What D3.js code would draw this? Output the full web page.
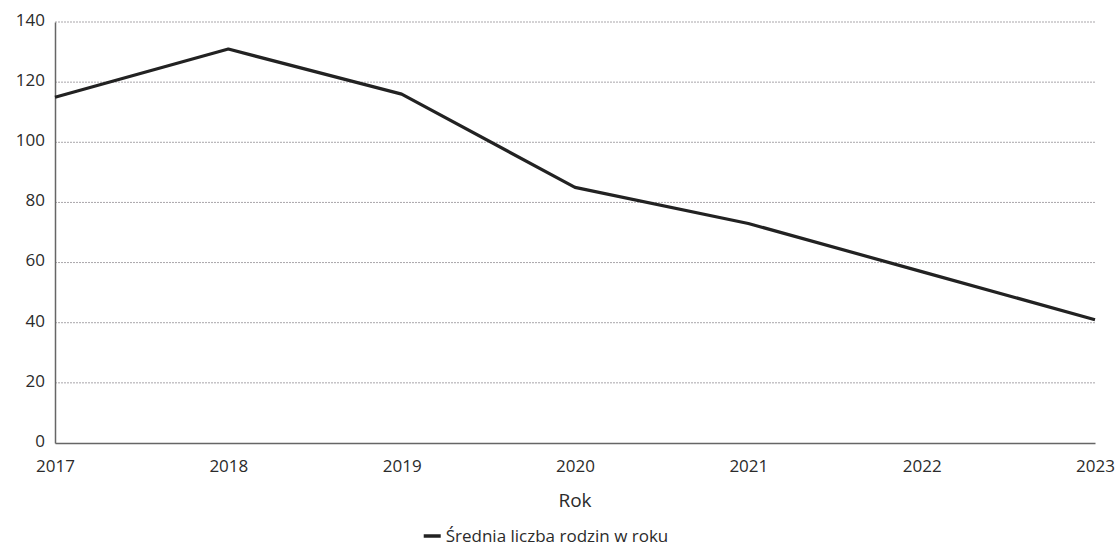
<!DOCTYPE html>
<html>
<head>
<meta charset="utf-8">
<script src="https://cdn.jsdelivr.net/npm/d3@7"></script>
<style>
  body { margin: 0; background: #fff; }
  text { font-family: "Open Sans", "Noto Sans", sans-serif; fill: #2b2b2b; }
</style>
</head>
<body>
<div id="chart"></div>
<script>
let years = [2017, 2018, 2019, 2020, 2021, 2022, 2023];
let values = [115, 131, 116, 85, 73, 57, 41];
let yTicks = [0, 20, 40, 60, 80, 100, 120, 140];
let seriesName = "Średnia liczba rodzin w roku";
let xTitle = "Rok";

let width = 1118, height = 549;
let margin = { left: 55, right: 23, top: 22, bottom: 106 };

let svg = d3.select('#chart')
    .append('svg')
    .attr('width', width)
    .attr('height', height);

let x = d3.scaleLinear()
    .domain([2017, 2023])
    .range([margin.left, width - margin.right]);

let y = d3.scaleLinear()
    .domain([0, 140])
    .range([height - margin.bottom, margin.top]);

// grid lines
svg.append('g')
    .selectAll('line')
    .data(yTicks.filter(d => d > 0))
    .enter().append('line')
    .attr('x1', margin.left)
    .attr('x2', width - margin.right)
    .attr('y1', d => y(d))
    .attr('y2', d => y(d))
    .attr('stroke', '#a9a6aa')
    .attr('stroke-width', 1)
    .attr('stroke-dasharray', '2,1');

// y axis
let yAxis = d3.axisLeft(y)
    .tickValues(yTicks)
    .tickSize(0)
    .tickPadding(10);
let gy = svg.append('g')
    .attr('transform', 'translate(' + margin.left + ',0)')
    .call(yAxis);
gy.select('.domain').attr('stroke', '#666').attr('stroke-width', 1.5);
gy.selectAll('text')
    .style('font-size', '17px')
    .attr('dy', '0.2em');

// x axis
let xAxis = d3.axisBottom(x)
    .tickValues(years)
    .tickSize(0)
    .tickPadding(17)
    .tickFormat(d3.format('d'));
let gx = svg.append('g')
    .attr('transform', 'translate(0,' + (height - margin.bottom) + ')')
    .call(xAxis);
gx.select('.domain').attr('stroke', '#666').attr('stroke-width', 1.5);
gx.selectAll('text').style('font-size', '17px');

// line
let line = d3.line()
    .x((d, i) => x(years[i]))
    .y(d => y(d));
svg.append('path')
    .datum(values)
    .attr('d', line)
    .attr('fill', 'none')
    .attr('stroke', '#222')
    .attr('stroke-width', 3.2)
    .attr('stroke-linejoin', 'round');

// axis title
svg.append('text')
    .attr('x', 575)
    .attr('y', 507)
    .attr('text-anchor', 'middle')
    .style('font-size', '19px')
    .text(xTitle);

// legend
let legend = svg.append('g')
    .attr('transform', 'translate(557,542)');
let legText = legend.append('text')
    .attr('x', 0)
    .attr('y', 0)
    .attr('text-anchor', 'middle')
    .style('font-size', '17px')
    .text(seriesName);
let bb = legText.node().getBBox();
legend.append('line')
    .attr('x1', bb.x - 22)
    .attr('x2', bb.x - 5)
    .attr('y1', -6)
    .attr('y2', -6)
    .attr('stroke', '#222')
    .attr('stroke-width', 3.5);
</script>
</body>
</html>
